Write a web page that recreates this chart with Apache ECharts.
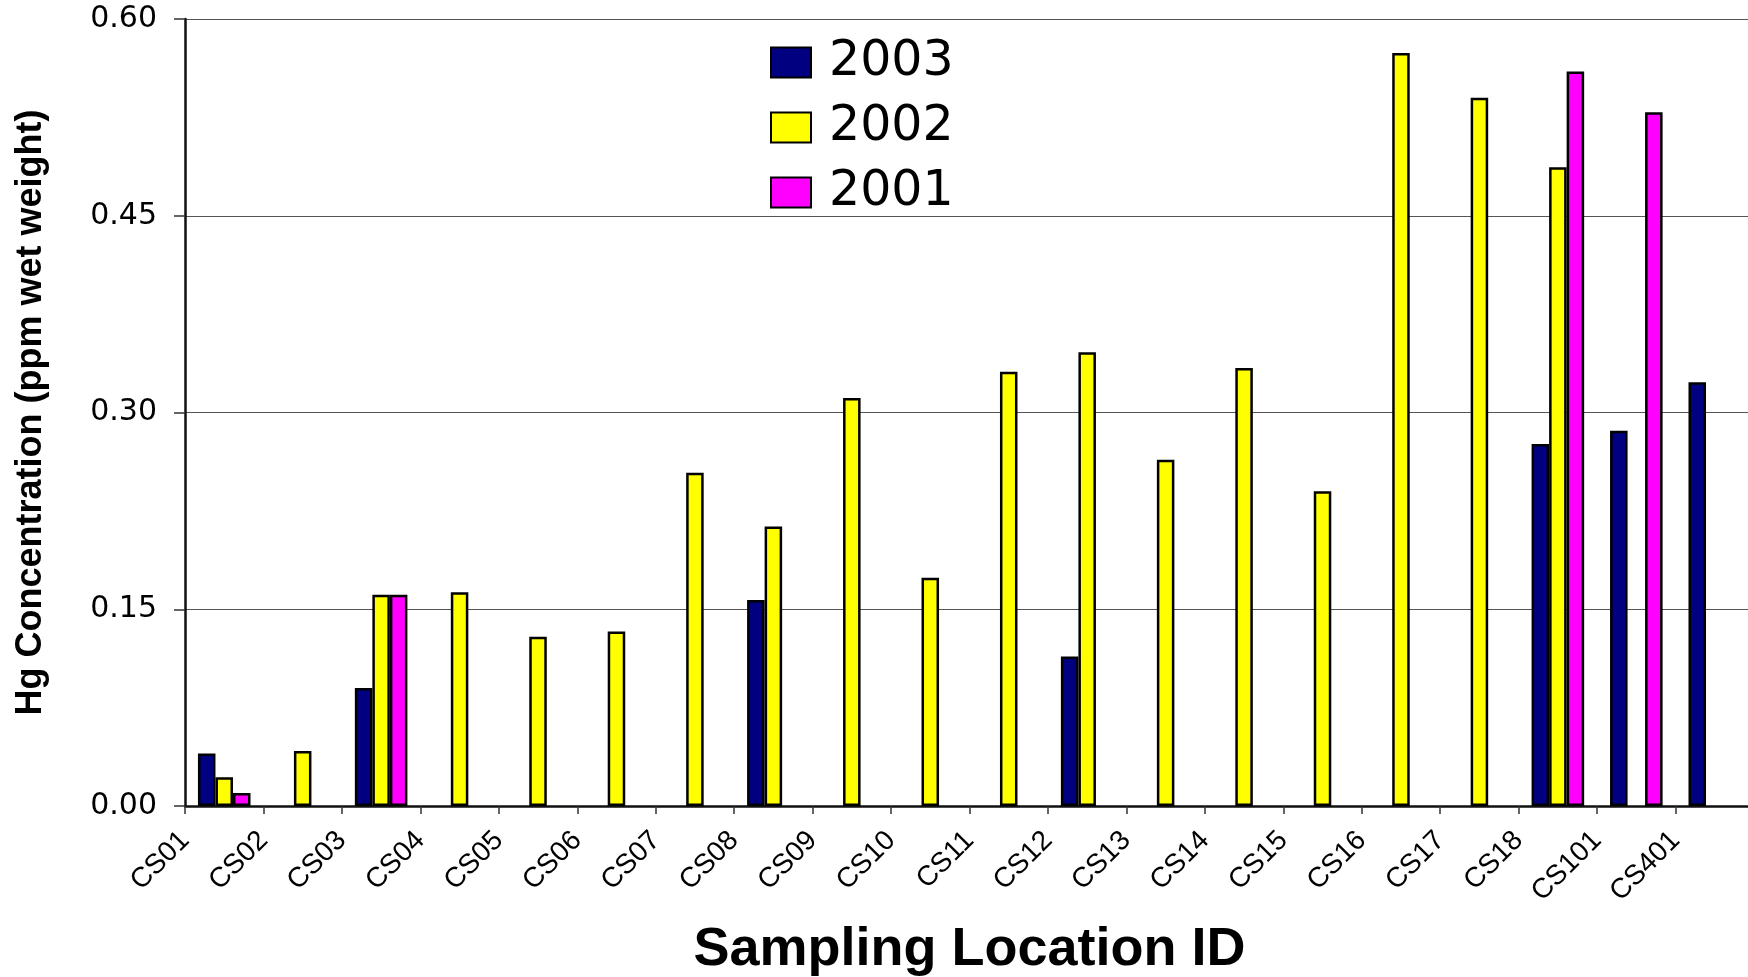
<!DOCTYPE html>
<html>
<head>
<meta charset="utf-8">
<script src="https://cdn.jsdelivr.net/npm/echarts@6.0.0/dist/echarts.min.js"></script>
<style>
  html, body { margin: 0; padding: 0; background: #fff; }
  #main { width: 1748px; height: 977px; }
</style>
</head>
<body>
<div id="main"></div>
<script type="text/javascript">
    // sampling locations
    var locations = ['CS01', 'CS02', 'CS03', 'CS04', 'CS05', 'CS06', 'CS07', 'CS08', 'CS09', 'CS10',
        'CS11', 'CS12', 'CS13', 'CS14', 'CS15', 'CS16', 'CS17', 'CS18', 'CS101', 'CS401'];

    // Hg concentration, ppm wet weight (null = no sample that year)
    var hg2003 = [0.040, null, 0.090, null, null, null, null, 0.157, null, null,
        null, 0.114, null, null, null, null, null, 0.276, 0.286, 0.323];
    var hg2002 = [0.022, 0.042, 0.161, 0.163, 0.129, 0.133, 0.254, 0.213, 0.311, 0.174,
        0.331, 0.346, 0.264, 0.334, 0.240, 0.574, 0.540, 0.487, null, null];
    var hg2001 = [0.010, null, 0.161, null, null, null, null, null, null, null,
        null, null, null, null, null, null, null, 0.560, 0.529, null];

    var yTicks = [0, 0.15, 0.30, 0.45, 0.60];

    var myChart = echarts.init(document.getElementById('main'));

    // labels sit on the tick marks, not in the middle of the category
    var tickLabels = locations.concat(['']);

    var barStyle = function (color) {
        return { color: color, borderColor: '#000', borderWidth: 2.5 };
    };

    var option = {
        animation: false,
        backgroundColor: '#fff',
        grid: {
            left: 185,
            right: -6,
            top: 19,
            bottom: 171,
            containLabel: false,
            outerBoundsMode: 'none'
        },
        legend: {
            orient: 'vertical',
            left: 770,
            top: 38,
            padding: 0,
            itemWidth: 40,
            itemHeight: 30,
            itemGap: 16,
            icon: 'rect',
            data: ['2003', '2002', '2001'],
            textStyle: {
                fontFamily: 'DejaVu Sans',
                fontSize: 49,
                lineHeight: 48,
                color: '#000',
                padding: [0, 0, 0, 13]
            }
        },
        xAxis: [
            {
                type: 'category',
                data: locations,
                position: 'bottom',
                name: 'Sampling Location ID',
                nameLocation: 'middle',
                nameGap: 117,
                nameTextStyle: {
                    fontFamily: 'Liberation Sans',
                    fontWeight: 'bold',
                    fontSize: 54,
                    color: '#000'
                },
                axisLine: { show: true, lineStyle: { color: '#111', width: 2.5 } },
                axisTick: { show: true, length: 8, lineStyle: { color: '#333', width: 1.5 } },
                axisLabel: { show: false },
                splitLine: { show: false }
            },
            {
                type: 'category',
                data: tickLabels,
                position: 'bottom',
                boundaryGap: false,
                axisLine: { show: false },
                axisTick: { show: false },
                splitLine: { show: false },
                axisLabel: {
                    interval: 0,
                    rotate: 45,
                    margin: 30,
                    fontFamily: 'Liberation Sans',
                    fontSize: 28,
                    color: '#000'
                }
            }
        ],
        yAxis: {
            type: 'value',
            min: yTicks[0],
            max: yTicks[yTicks.length - 1],
            interval: 0.15,
            name: 'Hg Concentration (ppm wet weight)',
            nameLocation: 'middle',
            nameGap: 136,
            nameTextStyle: {
                fontFamily: 'Liberation Sans',
                fontWeight: 'bold',
                fontSize: 36,
                color: '#000'
            },
            axisLine: { show: true, lineStyle: { color: '#111', width: 2.5 } },
            axisTick: { show: true, length: 11, lineStyle: { color: '#333', width: 1.5 } },
            axisLabel: {
                margin: 28,
                fontFamily: 'DejaVu Sans',
                fontSize: 30,
                color: '#000',
                formatter: function (v) { return v.toFixed(2); }
            },
            splitLine: { show: true, lineStyle: { color: '#555', width: 1 } }
        },
        series: [
            {
                name: '2003',
                type: 'bar',
                xAxisIndex: 0,
                barGap: '0%',
                barCategoryGap: '33%',
                itemStyle: barStyle('#000080'),
                data: hg2003
            },
            {
                name: '2002',
                type: 'bar',
                xAxisIndex: 0,
                barGap: '0%',
                barCategoryGap: '33%',
                itemStyle: barStyle('#FFFF00'),
                data: hg2002
            },
            {
                name: '2001',
                type: 'bar',
                xAxisIndex: 0,
                barGap: '0%',
                barCategoryGap: '33%',
                itemStyle: barStyle('#FF00FF'),
                data: hg2001
            }
        ]
    };

    myChart.setOption(option);
</script>
</body>
</html>
